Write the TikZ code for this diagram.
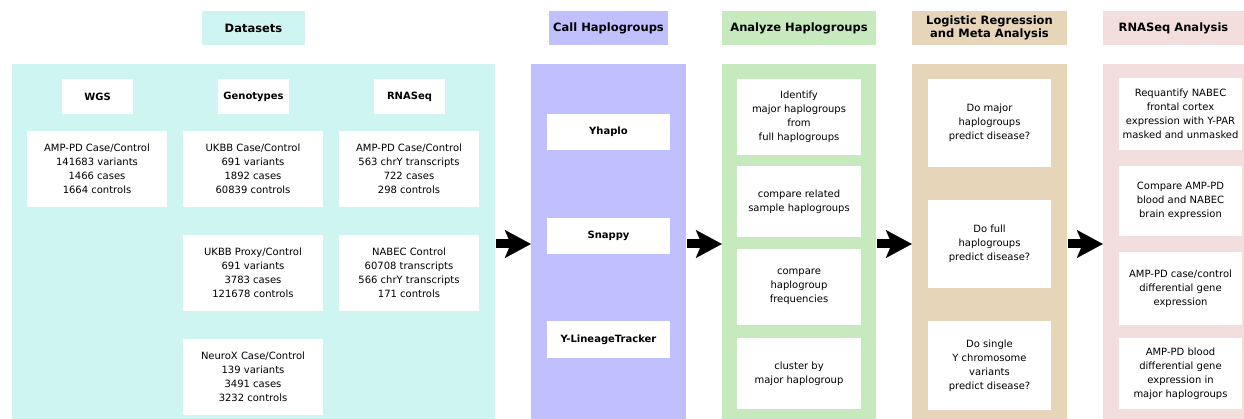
\documentclass[tikz,border=0pt]{standalone}
\usepackage{fontspec}
\setmainfont{DejaVu Sans}
\usetikzlibrary{arrows.meta}
\definecolor{cds}{HTML}{CFF5F2}
\definecolor{ccall}{HTML}{C0C0FF}
\definecolor{cana}{HTML}{C6E9BD}
\definecolor{clog}{HTML}{E6D5B9}
\definecolor{crna}{HTML}{F2DFDD}
\tikzset{
  hdr/.style={inner sep=0pt, minimum height=34pt, align=center,
    font=\fontsize{11.5}{12.5}\selectfont\bfseries},
  panel/.style={inner sep=0pt, minimum height=355pt},
  wbox/.style={fill=white, inner sep=0pt, align=center,
    font=\fontsize{10}{14}\selectfont},
  subhdr/.style={fill=white, inner sep=0pt, align=center, minimum width=71pt, minimum height=35pt,
    font=\fontsize{10}{14}\selectfont\bfseries},
  tool/.style={fill=white, inner sep=0pt, align=center, minimum width=123pt, minimum height=36pt,
    font=\fontsize{10}{14}\selectfont\bfseries},
  blockarrow/.style={line width=9pt, shorten <=1pt,
    -{Stealth[length=26pt, width=28pt, inset=6pt, line width=0.1pt]}}
}
\begin{document}
\begin{tikzpicture}[x=1pt,y=-1pt]
\useasboundingbox (0,0) rectangle (1244,419);
% headers
\node[hdr, fill=cds, minimum width=103pt] (hds) at (253.5,28) {Datasets};
\node[hdr, fill=ccall, minimum width=119pt] (hcall) at (608.5,28) {Call Haplogroups};
\node[hdr, fill=cana, minimum width=154pt] (hana) at (799,28) {Analyze Haplogroups};
\node[hdr, fill=clog, minimum width=155pt] (hlog) at (989.5,28) {Logistic Regression\\and Meta Analysis};
\node[hdr, fill=crna, minimum width=141pt] (hrna) at (1173.5,28) {RNASeq Analysis};
% panels
\node[panel, fill=cds, minimum width=483pt] (ds) at (253.5,241.5) {};
\node[panel, fill=ccall, minimum width=155pt] (call) at (608.5,241.5) {};
\node[panel, fill=cana, minimum width=154pt] (ana) at (799,241.5) {};
\node[panel, fill=clog, minimum width=155pt] (log) at (989.5,241.5) {};
\node[panel, fill=crna, minimum width=141pt] (rna) at (1173.5,241.5) {};
% datasets
\node[subhdr] (wgs) at (97.5,96.5) {WGS};
\node[subhdr] (geno) at (253.5,96.5) {Genotypes};
\node[subhdr] (rnaseq) at (409.5,96.5) {RNASeq};
\node[wbox, minimum width=140pt, minimum height=76pt] (d1) at (97,169) {AMP-PD Case/Control\\141683 variants\\1466 cases\\1664 controls};
\node[wbox, minimum width=140pt, minimum height=76pt] (d2) at (253,169) {UKBB Case/Control\\691 variants\\1892 cases\\60839 controls};
\node[wbox, minimum width=140pt, minimum height=76pt] (d3) at (409,169) {AMP-PD Case/Control\\563 chrY transcripts\\722 cases\\298 controls};
\node[wbox, minimum width=140pt, minimum height=76pt] (d4) at (253,273) {UKBB Proxy/Control\\691 variants\\3783 cases\\121678 controls};
\node[wbox, minimum width=140pt, minimum height=76pt] (d5) at (409,273) {NABEC Control\\60708 transcripts\\566 chrY transcripts\\171 controls};
\node[wbox, minimum width=140pt, minimum height=76pt] (d6) at (253,377) {NeuroX Case/Control\\139 variants\\3491 cases\\3232 controls};
% call haplogroups
\node[tool] (yhaplo) at (608.5,132) {Yhaplo};
\node[tool] (snappy) at (608.5,236) {Snappy};
\node[tool] (ylt) at (608.5,339.5) {Y-LineageTracker};
% analyze
\node[wbox, minimum width=124pt, minimum height=76pt] (a1) at (799,117) {Identify\\major haplogroups\\from\\full haplogroups};
\node[wbox, minimum width=124pt, minimum height=71pt] (a2) at (799,201.5) {compare related\\sample haplogroups};
\node[wbox, minimum width=124pt, minimum height=76pt] (a3) at (799,287) {compare\\haplogroup\\frequencies};
\node[wbox, minimum width=124pt, minimum height=71pt] (a4) at (799,373.5) {cluster by\\major haplogroup};
% logistic
\node[wbox, minimum width=123pt, minimum height=88pt] (l1) at (989.5,123) {Do major\\haplogroups\\predict disease?};
\node[wbox, minimum width=123pt, minimum height=88pt] (l2) at (989.5,244) {Do full\\haplogroups\\predict disease?};
\node[wbox, minimum width=123pt, minimum height=89pt] (l3) at (989.5,365.5) {Do single\\Y chromosome\\variants\\predict disease?};
% rnaseq
\node[wbox, minimum width=123pt, minimum height=72pt] (r1) at (1180.5,114) {Requantify NABEC\\frontal cortex\\expression with Y-PAR\\masked and unmasked};
\node[wbox, minimum width=123pt, minimum height=70pt] (r2) at (1180.5,201) {Compare AMP-PD\\blood and NABEC\\brain expression};
\node[wbox, minimum width=123pt, minimum height=73pt] (r3) at (1180.5,288.5) {AMP-PD case/control\\differential gene\\expression};
\node[wbox, minimum width=123pt, minimum height=71pt] (r4) at (1180.5,373.5) {AMP-PD blood\\differential gene\\expression in\\major haplogroups};
% arrows
\coordinate (ar) at (0,244);
\draw[blockarrow] (ds.east |- ar) -- (call.west |- ar);
\draw[blockarrow] (call.east |- ar) -- (ana.west |- ar);
\draw[blockarrow] (ana.east |- ar) -- (log.west |- ar);
\draw[blockarrow] (log.east |- ar) -- (rna.west |- ar);
\end{tikzpicture}
\end{document}
